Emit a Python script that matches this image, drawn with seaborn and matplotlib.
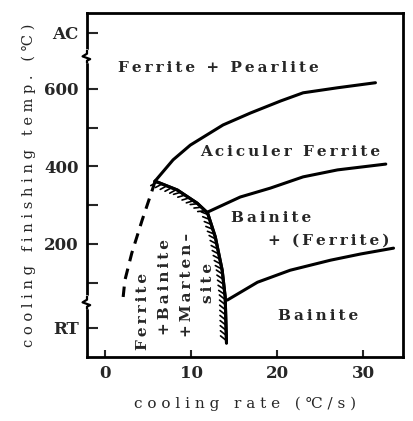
import matplotlib
matplotlib.use("Agg")
import matplotlib.pyplot as plt
import matplotlib.patheffects as pe
import seaborn as sns

# boundary curves (cooling rate in C/s, temperature in C)
upper_x = [5.8, 7.9, 9.9, 13.7, 16.9, 20.4, 23.0, 27.0, 31.4]
upper_y = [362, 417, 455, 507, 538, 569, 590, 603, 616]

middle_x = [11.9, 15.7, 19.2, 23.0, 27.0, 32.6]
middle_y = [282, 321, 344, 373, 391, 406]

lower_x = [14.2, 17.7, 21.5, 26.2, 29.7, 33.5]
lower_y = [55, 101, 132, 158, 174, 189]

# martensite boundary, listed bottom -> knee so the hatch sits inside
hatch_x = [14.1, 13.95, 13.6, 12.8, 11.9, 10.7, 8.4, 5.8]
hatch_y = [-56, 63, 132, 218, 280, 305, 339, 362]

dash_x = [5.8, 5.6, 4.3, 3.1, 2.3, 2.1]
dash_y = [362, 347, 261, 176, 106, 63]

x_ticks = [0, 10, 20, 30]
y_ticks = [745, 600, 500, 400, 300, 200, 100, -16]
y_labels = ["AC", "600", "", "400", "", "200", "", "RT"]

sns.set_style("ticks")
plt.rcParams["font.family"] = ["DejaVu Serif"]
plt.rcParams["font.weight"] = "bold"


def spaced(s, gap="\u2009"):
    # the original figure is typeset with wide letter spacing
    return gap.join(s)


fig = plt.figure(figsize=(4.13, 4.21), dpi=100)
ax = fig.add_axes([87 / 413, 64 / 421, 316 / 413, 344 / 421])

lw = 2.2
sns.lineplot(x=upper_x, y=upper_y, ax=ax, color="black", lw=lw, sort=False, estimator=None)
sns.lineplot(x=middle_x, y=middle_y, ax=ax, color="black", lw=lw, sort=False, estimator=None)
sns.lineplot(x=lower_x, y=lower_y, ax=ax, color="black", lw=lw, sort=False, estimator=None)
sns.lineplot(x=hatch_x, y=hatch_y, ax=ax, color="black", lw=lw, sort=False, estimator=None,
             path_effects=[pe.withTickedStroke(angle=50, spacing=3.6, length=1.5, linewidth=1.2),
                           pe.Normal()])
sns.lineplot(x=dash_x, y=dash_y, ax=ax, color="black", lw=lw, sort=False, estimator=None,
             linestyle=(0, (3.5, 2.5)))

ax.set_xlim(-2.1, 34.6)
ax.set_ylim(-92, 796)
ax.set_xticks(x_ticks)
ax.set_yticks(y_ticks)
ax.set_yticklabels(y_labels)
ax.tick_params(axis="y", direction="in", length=8, width=1.5, pad=6, labelsize=12)
ax.tick_params(axis="x", direction="in", length=5, width=1.5, pad=6, labelsize=12)
for s in ax.spines.values():
    s.set_linewidth(2)
    s.set_color("black")

# axis break marks on the left spine
tr = ax.get_yaxis_transform()
for yb in [683, 48]:
    ax.plot([0, 0], [yb - 14, yb + 14], color="white", lw=3, transform=tr, clip_on=False, zorder=5)
    ax.plot([0, 0, -0.014, 0.01, 0, 0], [yb + 16, yb + 8, yb + 1, yb - 6, yb - 10, yb - 16],
            color="black", lw=1.6, transform=tr, clip_on=False, zorder=6)

fs = 11
ax.text(13.1, 655, spaced("Ferrite + Pearlite"), fontsize=fs, ha="center", va="center")
ax.text(21.5, 436, spaced("Aciculer Ferrite"), fontsize=fs, ha="center", va="center")
ax.text(19.3, 268, spaced("Bainite"), fontsize=fs, ha="center", va="center")
ax.text(26.0, 208, spaced("+ (Ferrite)"), fontsize=fs, ha="center", va="center")
ax.text(24.7, 13, spaced("Bainite"), fontsize=fs, ha="center", va="center")

ax.text(4.4, -74, spaced("Ferrite"), fontsize=fs, rotation=90, ha="center", va="bottom")
ax.text(7.0, -36, spaced("+Bainite"), fontsize=fs, rotation=90, ha="center", va="bottom")
ax.text(9.5, -41, spaced("+Marten\u2013"), fontsize=fs, rotation=90, ha="center", va="bottom")
ax.text(12.0, 47, spaced("site"), fontsize=fs, rotation=90, ha="center", va="bottom")

ax.set_xlabel(spaced("cooling rate (\u2103/s)", " "), fontsize=11, labelpad=10)
ax.set_ylabel(spaced("cooling finishing temp. (\u2103)", " "), fontsize=10.5, labelpad=6)

fig.savefig("out.png", dpi=100)
